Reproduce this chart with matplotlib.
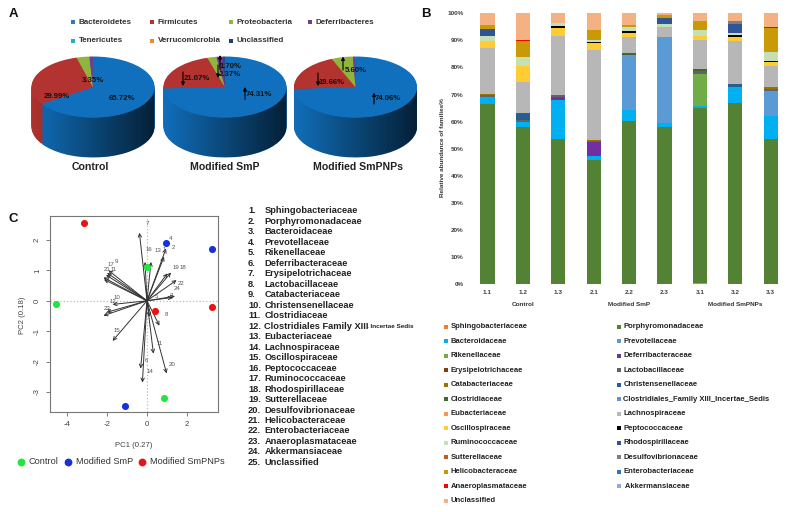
"""Three panel figure: phylum pies, family stacked bars, PCA biplot."""
import numpy as np
import matplotlib
matplotlib.use("Agg")
import matplotlib.pyplot as plt
from matplotlib.path import Path
from matplotlib.patches import PathPatch

W, H = 788, 512
plt.rcParams["font.family"] = ["Liberation Sans", "DejaVu Sans"]
plt.rcParams["axes.unicode_minus"] = False

# ---- panel A data
PIE_NAMES = ["Control", "Modified SmP", "Modified SmPNPs"]
control_pie = [65.72, 29.99, 3.35, 0.94]
smp_pie = [74.31, 21.07, 2.37, 1.70, 0.55]
smpnp_pie = [74.06, 19.66, 5.60, 0.68]
PIE_COLORS = ["#1170bd", "#b2332f", "#8fb53e", "#6b3f92", "#2a4a7f"]
PHYLA = ["Bacteroidetes", "Firmicutes", "Proteobacteria", "Deferribacteres",
         "Tenericutes", "Verrucomicrobia", "Unclassified"]
PHYLA_COLORS = ["#2f78c4", "#b2332f", "#8fb53e", "#6b3f92",
                "#2fa8c4", "#ef8a2c", "#1d3f6e"]

# ---- panel B data
samples = ["1.1", "1.2", "1.3", "2.1", "2.2", "2.3", "3.1", "3.2", "3.3"]
sphingo = [0, 0, 0, 0, 0, 0, 0.2, 0, 0]
porphyro = [66.4, 58.1, 53.5, 45.9, 60.3, 58.1, 64.7, 66.7, 53.4]
bacteroid = [2.6, 1.9, 14.4, 1.3, 3.9, 1.4, 0.9, 6.1, 8.6]
prevot = [0, 0, 0, 0, 20.4, 31.7, 0, 0, 9.4]
rikenell = [0, 0, 0, 0, 0, 0, 11.8, 0, 0]
deferri = [0, 0, 1.1, 5.1, 0, 0, 0, 0, 0]
erysipelo = [0, 0, 0, 0, 0, 0, 0, 0, 0]
lacto = [0.8, 0.6, 0.7, 0.5, 0, 0, 1.0, 0, 0.8]
catabac = [0.4, 0, 0, 0.5, 0, 0, 0, 0, 0.7]
christen = [0, 2.2, 0, 0, 0, 0, 0, 0.9, 0]
clostrid = [0, 0.4, 0, 0, 0.6, 0, 0.7, 0, 0]
clost_xiii = [0, 0, 0, 0, 0, 0, 0, 0, 0]
eubact = [0, 0, 0, 0, 0, 0, 0, 0, 0]
lachno = [17.1, 11.6, 22.0, 33.0, 6.0, 3.7, 10.9, 16.0, 7.6]
oscillo = [2.3, 5.9, 3.0, 2.9, 1.4, 0, 1.4, 1.7, 1.4]
pepto = [0.2, 0, 0.5, 0.3, 1.0, 0, 0, 0.4, 0.5]
rumino = [1.7, 3.3, 1.2, 0.8, 1.3, 1.3, 2.1, 1.1, 3.2]
rhodo = [2.6, 0, 0, 0, 0, 2.2, 0, 3.3, 0]
sutter = [0, 0, 0, 0, 0, 0, 0, 0, 0]
desulfo = [0, 0, 0, 0, 0, 0, 0, 1.0, 0]
helico = [1.7, 5.9, 0, 3.7, 0.8, 0.8, 3.3, 0, 9.0]
entero = [0, 0, 0, 0, 0, 0, 0, 0, 0]
anaero = [0, 0.3, 0, 0, 0, 0, 0, 0, 0.5]
akker = [0, 0, 0, 0, 0, 0, 0, 0, 0]
unclass = [4.2, 9.8, 3.6, 6.0, 4.3, 0.8, 3.0, 2.8, 4.9]

FAMILY_VALUES = [sphingo, porphyro, bacteroid, prevot, rikenell, deferri,
                 erysipelo, lacto, catabac, christen, clostrid, clost_xiii,
                 eubact, lachno, oscillo, pepto, rumino, rhodo, sutter,
                 desulfo, helico, entero, anaero, akker, unclass]
FAMILY_COLORS = ["#ed7d31", "#548235", "#00b0f0", "#5b9bd5", "#70ad47",
                 "#7030a0", "#843c0c", "#636363", "#997300", "#255e91",
                 "#43682b", "#698ed0", "#f1975a", "#b7b7b7", "#ffcd33",
                 "#000000", "#c5e0b4", "#2f5597", "#c55a11", "#7f7f7f",
                 "#c99a06", "#2e75b6", "#ff0000", "#8faadc", "#f4b183"]
FAMILY_LEGEND = ["Sphingobacteriaceae", "Porphyromonadaceae", "Bacteroidaceae",
                 "Prevotellaceae", "Rikenellaceae", "Deferribacteraceae",
                 "Erysipelotrichaceae", "Lactobacillaceae", "Catabacteriaceae",
                 "Christensenellaceae", "Clostridiaceae",
                 "Clostridiales_Family XIII_Incertae_Sedis", "Eubacteriaceae",
                 "Lachnospiraceae", "Oscillospiraceae", "Peptococcaceae",
                 "Ruminococcaceae", "Rhodospirillaceae", "Sutterellaceae",
                 "Desulfovibrionaceae", "Helicobacteraceae",
                 "Enterobacteriaceae", "Anaeroplasmataceae", " Akkermansiaceae",
                 "Unclassified"]
GROUPS = ["Control", "Modified SmP", "Modified SmPNPs"]

# ---- panel C data
control_x, control_y = [0.0, -4.55, 0.87], [1.12, -0.11, -3.2]
smp_x, smp_y = [0.97, 3.23, -1.1], [1.91, 1.70, -3.45]
smpnp_x, smpnp_y = [-3.15, 3.25, 0.42], [2.55, -0.22, -0.34]
arrow_x = [-0.38, -0.1, 0.2, 0.95, 0.85, 1.02, 1.2, 1.48, 1.4, 1.28, -1.93,
           -2.0, -2.05, -2.18, -2.15, -1.72, -2.02, -2.18, -1.72, 0.62, 0.32,
           0.98, -0.32, -0.23, 0.12]
arrow_y = [2.24, 1.28, 1.28, 1.72, 1.45, 0.9, 0.93, 0.68, 0.15, 0.11, 1.0,
           0.92, 0.85, 0.77, 0.7, -0.12, -0.38, -0.49, -1.32, -0.82, -1.74,
           -2.39, -2.23, -2.69, -0.53]
arrow_names = ["7", "16", "1", "13", "2", "4", "9", "17", "21", "11", "19",
               "18", "22", "24", "3", "5", "10", "12", "23", "25", "15", "8",
               "11", "6", "14", "20"]
name_x = [0.0, 0.1, 0.87, 0.55, 1.32, 1.18, -1.55, -1.8, -1.98, -1.68, 1.47,
          1.8, 1.72, 1.5, 1.2, 0.48, -1.52, -1.72, -1.98, -1.9, -1.5, 0.97,
          0.65, -0.03, 0.13, 1.23]
name_y = [2.53, 1.7, 1.69, 1.65, 1.76, 2.04, 1.3, 1.21, 1.04, 1.04, 1.11, 1.09,
          0.56, 0.42, 0.16, 0.15, 0.12, -0.03, -0.24, -0.36, -0.97, -0.46,
          -1.42, -1.98, -2.33, -2.11]
FAMILY_LIST = ["Sphingobacteriaceae", "Porphyromonadaceae", "Bacteroidaceae",
               "Prevotellaceae", "Rikenellaceae", "Deferribacteraceae",
               "Erysipelotrichaceae", "Lactobacillaceae", "Catabacteriaceae",
               "Christensenellaceae", "Clostridiaceae",
               "Clostridiales Family XIII", "Eubacteriaceae", "Lachnospiraceae",
               "Oscillospiraceae", "Peptococcaceae", "Ruminococcaceae",
               "Rhodospirillaceae", "Sutterellaceae", "Desulfovibrionaceae",
               "Helicobacteraceae", "Enterobacteriaceae", "Anaeroplasmataceae",
               "Akkermansiaceae", "Unclassified"]

fig = plt.figure(figsize=(W / 100, H / 100), dpi=100, facecolor="white")


def px_axes(left, top, right, bottom, **kw):
    return fig.add_axes([left / W, 1 - bottom / H, (right - left) / W,
                         (bottom - top) / H], **kw)


# overlay in pixel coordinates, for loose text
over = px_axes(0, 0, W, H, zorder=10)
over.set_xlim(0, W)
over.set_ylim(H, 0)
over.axis("off")
over.patch.set_alpha(0)


# --------------------------------------------------------------------------
# A) pies
# --------------------------------------------------------------------------
def draw_pie(values, cx, cy, rx=61.5, ry=30.5, depth=40):
    ax = px_axes(cx - rx, cy - ry, cx + rx, cy + ry + depth)
    colors = PIE_COLORS[:len(values)]
    low = -(ry + depth) / ry
    # side wall: the same pie stacked downwards
    for d in range(depth, 0, -1):
        ax.pie(values, colors=colors, startangle=90, counterclock=False,
               center=(0, -d / ry), radius=1, wedgeprops={"linewidth": 0})
    th = np.linspace(np.pi, 2 * np.pi, 90)
    xs = np.r_[np.cos(th), np.cos(th[::-1])]
    ys = np.r_[np.sin(th), np.sin(th[::-1]) - depth / ry]
    wall = PathPatch(Path(np.c_[xs, ys]), transform=ax.transData, fc="none", lw=0)
    ax.add_patch(wall)
    shade = np.zeros((1, 200, 4))
    shade[..., 3] = np.linspace(0.02, 0.72, 200)
    im = ax.imshow(shade, extent=(-1, 1, low, 1), aspect="auto", zorder=50)
    im.set_clip_path(wall)
    wedges, _ = ax.pie(values, colors=colors, startangle=90, counterclock=False,
                       radius=1, wedgeprops={"linewidth": 0})
    for w in wedges:
        w.set_zorder(60)
    ax.set_aspect("auto")
    ax.set_xlim(-1, 1)
    ax.set_ylim(low, 1)
    ax.axis("off")


draw_pie(control_pie, 93, 87)
draw_pie(smp_pie, 225, 87)
draw_pie(smpnp_pie, 355.5, 87)

LEGEND_X = [73, 152, 231, 310, 73, 152, 231]
LEGEND_Y = [22, 22, 22, 22, 41, 41, 41]
for name, col, x, y in zip(PHYLA, PHYLA_COLORS, LEGEND_X, LEGEND_Y):
    over.plot([x], [y], "s", ms=3.4, color=col, mew=0)
    over.text(x + 6, y, name, weight="bold", fontsize=5.8,
              color="#333333", va="center")

for name, x in zip(PIE_NAMES, [90, 225, 358]):
    over.text(x, 167.5, name, weight="bold", fontsize=7.6,
              color="#222222", ha="center", va="center")

pie_labels = [("65.72%", 122, 98), ("29.99%", 57, 96), ("3.35%", 93, 81),
              ("74.31%", 259, 94), ("21.07%", 197, 78), ("2.37%", 230, 75),
              ("1.70%", 231, 66), ("74.06%", 388, 99), ("19.66%", 332, 82),
              ("5.60%", 356, 71)]
for txt, x, y in pie_labels:
    over.text(x, y, txt, weight="bold", fontsize=5.6,
              color="#111111", ha="center", va="center")

# up / down arrows beside the labels: x, tail y, head y
for x, y0, y1 in [(245, 99.5, 87), (183, 72, 86), (218, 65, 78), (220, 70, 55),
                  (374, 104, 92.5), (318, 73, 86), (343, 70, 56.5)]:
    over.annotate("", xy=(x, y1), xytext=(x, y0),
                  arrowprops=dict(arrowstyle="-|>", color="black", lw=0.8,
                                  mutation_scale=5, shrinkA=0, shrinkB=0))

# --------------------------------------------------------------------------
# B) stacked bars
# --------------------------------------------------------------------------
ax_b = px_axes(469.8, 13.3, 788.5, 284)
xpos = np.arange(len(samples))
bottom = np.zeros(len(samples))
for vals, col in zip(FAMILY_VALUES, FAMILY_COLORS):
    ax_b.bar(xpos, vals, width=0.40, bottom=bottom, color=col, linewidth=0)
    bottom += np.array(vals)
ax_b.set_xlim(-0.5, 8.5)
ax_b.set_ylim(0, 100)
ax_b.set_xticks(xpos, samples)
ax_b.set_yticks(range(0, 101, 10), [f"{v}%" for v in range(0, 101, 10)])
ax_b.tick_params(length=0, labelsize=4.6, labelcolor="#404040", pad=4.5)
for lab in ax_b.get_xticklabels() + ax_b.get_yticklabels():
    lab.set_fontweight("bold")
for s in ax_b.spines.values():
    s.set_visible(False)

over.text(443, 148, "Relative abundance of families%", rotation=90, weight="bold",
          fontsize=4.6, color="#333333", ha="center", va="center")
for name, x in zip(GROUPS, [523, 629, 735]):
    over.text(x, 304, name, weight="bold", fontsize=4.6, color="#333333",
              ha="center", va="center")

for i, (name, col) in enumerate(zip(FAMILY_LEGEND, FAMILY_COLORS)):
    row, colm = i // 2, i % 2
    x = 446 if colm == 0 else 619
    y = 327 + row * 14.47
    over.plot([x], [y], "s", ms=3, color=col, mew=0)
    over.text(x + 4.5, y, name, weight="bold", fontsize=5.5, color="#222222",
              va="center")

# --------------------------------------------------------------------------
# C) biplot
# --------------------------------------------------------------------------
ax_c = px_axes(50, 216, 218, 412)
ax_c.axhline(0, color="#bbbbbb", ls=":", lw=0.9, zorder=1)
ax_c.axvline(0, color="#bbbbbb", ls=":", lw=0.9, zorder=1)
for ax_, ay_ in zip(arrow_x, arrow_y):
    ax_c.annotate("", xy=(ax_, ay_), xytext=(0, 0), zorder=2,
                  arrowprops=dict(arrowstyle="->", color="#333333", lw=0.7,
                                  mutation_scale=6, shrinkA=0, shrinkB=0))
for name, x, y in zip(arrow_names, name_x, name_y):
    ax_c.text(x, y, name, fontsize=4.4, color="#555555", ha="center", va="center")
ax_c.scatter(control_x, control_y, s=26, color="#22e63a", lw=0, zorder=3)
ax_c.scatter(smp_x, smp_y, s=26, color="#1530e0", lw=0, zorder=3)
ax_c.scatter(smpnp_x, smpnp_y, s=26, color="#ee1111", lw=0, zorder=3)
ax_c.set_xlim(-4.85, 3.55)
ax_c.set_ylim(-3.66, 2.79)
ax_c.set_xticks([-4, -2, 0, 2])
ax_c.set_yticks([-3, -2, -1, 0, 1, 2])
ax_c.tick_params(length=3, width=0.6, color="#666666", labelsize=5.6,
                 labelcolor="#444444", pad=3.5)
for lab in ax_c.get_yticklabels():
    lab.set_rotation(90)
    lab.set_va("center")
for s in ax_c.spines.values():
    s.set_color("#777777")
    s.set_linewidth(0.8)

over.text(134, 445.5, "PC1 (0.27)", fontsize=5.6, color="#444444",
          ha="center", va="center")
over.text(23, 315, "PC2 (0.18)", fontsize=5.6, color="#444444", rotation=90,
          ha="center", va="center")

for x, col, name in [(21, "#22e63a", "Control"), (68, "#1530e0", "Modified SmP"),
                     (142, "#ee1111", "Modified SmPNPs")]:
    over.plot([x], [461.5], "o", ms=5.6, color=col, mew=0)
    over.text(x + 8, 461.5, name, fontsize=6.6, color="#333333", va="center")

for i, name in enumerate(FAMILY_LIST):
    y = 210.7 + i * 10.49
    over.text(248, y, f"{i + 1}.", weight="bold", fontsize=6.7, color="#222222",
              va="center")
    over.text(264.5, y, name, weight="bold", fontsize=6.7, color="#222222",
              va="center")
over.text(367, 326.5, ". Incertae Sedis", weight="bold", fontsize=4.6,
          color="#222222", va="center")

for letter, x, y in [("A", 13, 14), ("B", 426, 14), ("C", 13, 219)]:
    over.text(x, y, letter, weight="bold", fontsize=9.5, color="#111111",
              ha="center", va="center")

fig.savefig("out.png", dpi=100)
